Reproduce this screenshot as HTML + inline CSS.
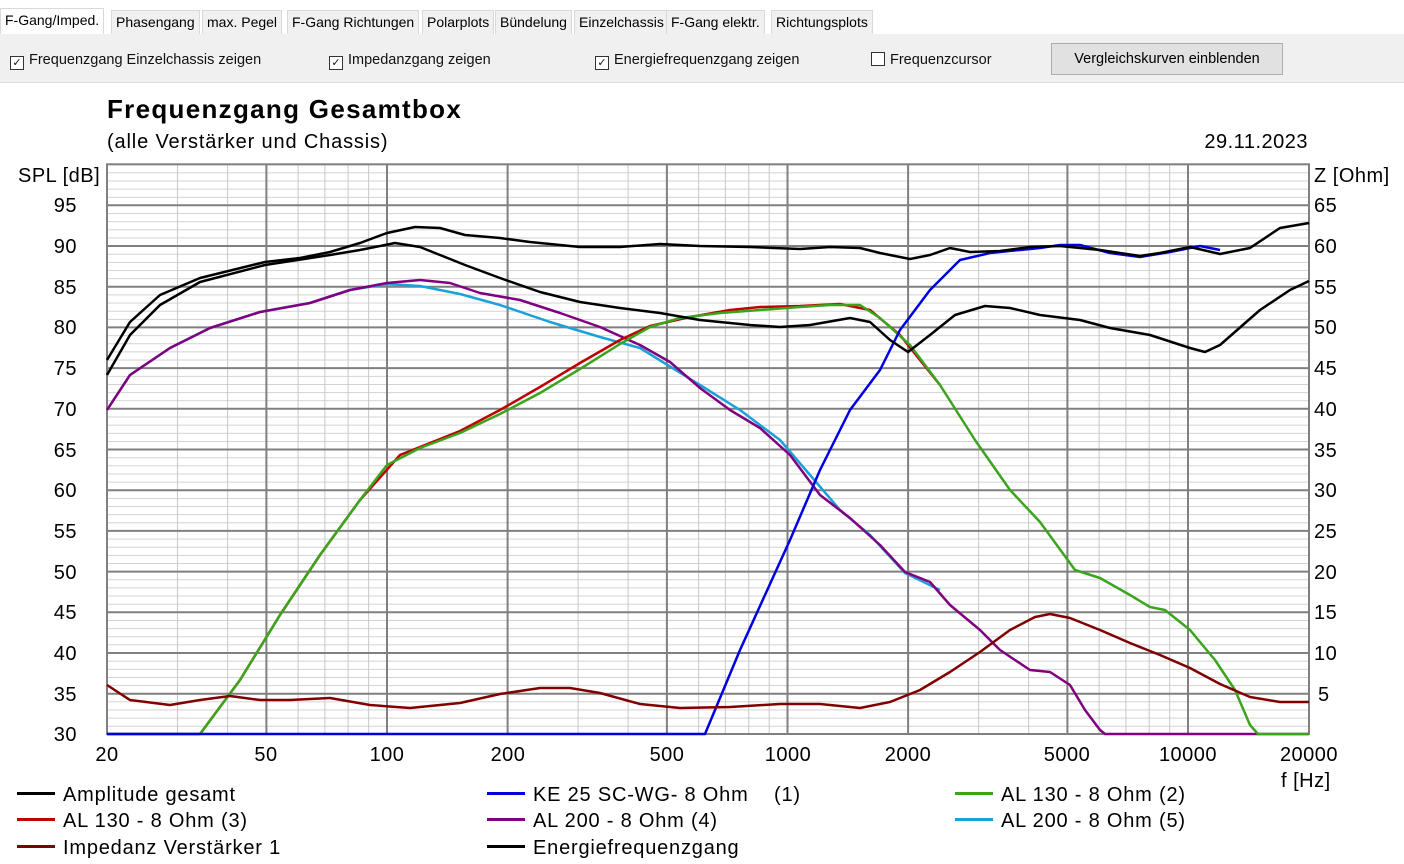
<!DOCTYPE html>
<html><head><meta charset="utf-8"><style>
body{margin:0;width:1404px;height:864px;background:#fff;font-family:"Liberation Sans",sans-serif;overflow:hidden;position:relative}
.tabs{position:absolute;top:8px;left:0;height:26px;width:1404px;background:#fff;border-bottom:1px solid #d9d9d9}
.tab{position:absolute;top:2px;height:23px;background:#f0f0f0;border:1px solid #d9d9d9;font-size:14px;line-height:23px;padding:0 4px;color:#000}
.bar{position:absolute;top:34px;left:0;width:1404px;height:48px;background:#f0f0f0;border-bottom:1px solid #ddd}
.cb{position:absolute;top:52px;font-size:14.5px;color:#111}
.cb i{display:inline-block;width:12px;height:12px;border:1px solid #333;background:#fff;vertical-align:-2px;margin-right:5px;font-style:normal;font-size:11px;line-height:12px;text-align:center}
.btn{position:absolute;left:1051px;top:43px;width:230px;height:30px;background:#e1e1e1;border:1px solid #adadad;font-size:14.5px;text-align:center;line-height:30px}
.t{position:absolute;font-size:20px;color:#000;white-space:nowrap;letter-spacing:0.5px}
.lg{position:absolute;font-size:20px;white-space:nowrap;letter-spacing:0.8px}
.lg b{display:inline-block;width:38px;height:3px;vertical-align:6px;margin-right:8px}
</style></head><body>
<div class="tabs">
<div class="tab" style="left:0;top:0;height:26px;background:#fff;border-bottom:none">F-Gang/Imped.</div>
<div class="tab" style="left:111px">Phasengang</div>
<div class="tab" style="left:202px">max. Pegel</div>
<div class="tab" style="left:287px">F-Gang Richtungen</div>
<div class="tab" style="left:422px">Polarplots</div>
<div class="tab" style="left:495px">Bündelung</div>
<div class="tab" style="left:574px">Einzelchassis</div>
<div class="tab" style="left:666px">F-Gang elektr.</div>
<div class="tab" style="left:771px">Richtungsplots</div>
</div>
<div class="bar"></div>
<div class="cb" style="left:10px"><i>✓</i>Frequenzgang Einzelchassis zeigen</div>
<div class="cb" style="left:329px"><i>✓</i>Impedanzgang zeigen</div>
<div class="cb" style="left:595px"><i>✓</i>Energiefrequenzgang zeigen</div>
<div class="cb" style="left:871px"><i></i>Frequenzcursor</div>
<div class="btn">Vergleichskurven einblenden</div>

<div class="t" style="left:107px;top:94px;font-size:26px;font-weight:bold;letter-spacing:1.3px">Frequenzgang Gesamtbox</div>
<div class="t" style="left:107px;top:131px;letter-spacing:0.85px">(alle Verstärker und Chassis)</div>
<div class="t" style="right:96px;top:131px">29.11.2023</div>
<div class="t" style="left:18px;top:165px">SPL [dB]</div>
<div class="t" style="left:1314px;top:165px">Z [Ohm]</div>
<div class="t" style="left:1281px;top:770px">f [Hz]</div>

<svg width="1404" height="864" style="position:absolute;left:0;top:0">
<defs><pattern id="hp" x="0" y="164.3" width="10" height="8.138" patternUnits="userSpaceOnUse"><line x1="0" y1="0.3" x2="10" y2="0.3" stroke="#c8c8c8" stroke-width="1"/></pattern></defs>
<rect x="107" y="164.3" width="1202" height="569.7" fill="url(#hp)"/>
<g stroke="#c8c8c8" stroke-width="1">
<line x1="177.5" y1="164" x2="177.5" y2="734"/><line x1="227.6" y1="164" x2="227.6" y2="734"/><line x1="298.1" y1="164" x2="298.1" y2="734"/><line x1="324.9" y1="164" x2="324.9" y2="734"/><line x1="348.1" y1="164" x2="348.1" y2="734"/><line x1="368.6" y1="164" x2="368.6" y2="734"/>
<line x1="578.1" y1="164" x2="578.1" y2="734"/><line x1="628.1" y1="164" x2="628.1" y2="734"/><line x1="698.6" y1="164" x2="698.6" y2="734"/><line x1="725.4" y1="164" x2="725.4" y2="734"/><line x1="748.7" y1="164" x2="748.7" y2="734"/><line x1="769.2" y1="164" x2="769.2" y2="734"/>
<line x1="978.6" y1="164" x2="978.6" y2="734"/><line x1="1028.6" y1="164" x2="1028.6" y2="734"/><line x1="1099.1" y1="164" x2="1099.1" y2="734"/><line x1="1125.9" y1="164" x2="1125.9" y2="734"/><line x1="1149.2" y1="164" x2="1149.2" y2="734"/><line x1="1169.7" y1="164" x2="1169.7" y2="734"/>
</g>
<g stroke="#808080" stroke-width="2">
<line x1="266.4" y1="164" x2="266.4" y2="734"/><line x1="387" y1="164" x2="387" y2="734"/><line x1="507.6" y1="164" x2="507.6" y2="734"/><line x1="666.9" y1="164" x2="666.9" y2="734"/><line x1="787.5" y1="164" x2="787.5" y2="734"/><line x1="908.1" y1="164" x2="908.1" y2="734"/><line x1="1067.4" y1="164" x2="1067.4" y2="734"/><line x1="1188" y1="164" x2="1188" y2="734"/>
<line x1="107" y1="205.3" x2="1309" y2="205.3"/><line x1="107" y1="246" x2="1309" y2="246"/><line x1="107" y1="286.7" x2="1309" y2="286.7"/><line x1="107" y1="327.4" x2="1309" y2="327.4"/><line x1="107" y1="368.1" x2="1309" y2="368.1"/><line x1="107" y1="408.8" x2="1309" y2="408.8"/><line x1="107" y1="449.5" x2="1309" y2="449.5"/><line x1="107" y1="490.2" x2="1309" y2="490.2"/><line x1="107" y1="530.9" x2="1309" y2="530.9"/><line x1="107" y1="571.6" x2="1309" y2="571.6"/><line x1="107" y1="612.3" x2="1309" y2="612.3"/><line x1="107" y1="653" x2="1309" y2="653"/><line x1="107" y1="693.7" x2="1309" y2="693.7"/>
</g>
<rect x="107" y="164.3" width="1202" height="569.7" fill="none" stroke="#808080" stroke-width="2"/>
<g fill="none" stroke-width="2.5" stroke-linejoin="round">
<polyline stroke="#1ba1d8" points="107,410 130,375 170,348 210,328 260,312 310,303 350,290 387,284 420,286 460,294 500,305 550,322 600,337 640,348 700,385 740,410 780,440 810,475 840,510 870,535 905,573 940,590"/>
<polyline stroke="#800080" points="107,410 130,375 170,348 210,328 260,312 310,303 350,290 387,283 420,280 450,283 480,293 520,300 560,313 600,327 640,345 670,362 700,388 730,410 760,428 790,455 820,495 850,518 880,545 905,572 930,582 950,605 980,630 1000,650 1030,670 1050,672 1070,685 1085,710 1100,730 1105,734 1309,734"/>
<polyline stroke="#c00000" points="107,734 200,734 240,680 280,615 320,555 360,500 400,455 460,431 500,410 540,387 580,363 620,340 650,326 690,317 730,310 760,307 800,306 840,304 870,310 900,335 940,385"/>
<polyline stroke="#3aa51c" points="107,734 200,734 240,680 280,615 320,555 360,500 387,465 420,448 460,433 500,414 540,393 580,369 620,344 650,327 680,318 720,313 760,310 800,307 830,305 860,305 880,318 910,345 940,385 975,440 1010,490 1040,522 1075,570 1100,578 1130,595 1150,607 1165,610 1190,630 1215,660 1235,690 1250,725 1258,734 1309,734"/>
<polyline stroke="#0000e0" points="107,734 705,734 740,650 765,595 790,540 820,470 850,410 880,370 900,330 930,290 960,260 990,253 1020,250 1040,248 1060,245 1080,245 1110,253 1140,257 1170,252 1200,246 1220,250"/>
<polyline stroke="#800000" points="107,685 130,700 170,705 200,700 230,696 260,700 290,700 330,698 370,705 410,708 460,703 500,694 540,688 570,688 600,693 640,704 680,708 730,707 780,704 820,704 860,708 890,702 920,690 950,672 980,652 1010,630 1035,617 1050,614 1070,618 1100,630 1130,643 1160,655 1190,668 1220,684 1250,697 1280,702 1309,702"/>
<polyline stroke="#000" points="107,360 130,322 160,295 200,278 265,262 300,258 330,252 360,243 387,233 415,227 440,228 465,235 500,238 530,242 580,247 620,247 660,244 700,246 750,247 800,249 830,247 860,248 880,253 910,259 930,255 950,248 970,252 1000,251 1030,247 1060,246 1100,250 1140,256 1160,253 1190,247 1220,254 1250,248 1280,228 1309,223"/>
<polyline stroke="#000" points="107,375 130,335 160,305 200,282 265,265 330,255 360,250 395,243 420,247 440,255 465,265 500,278 540,292 580,302 620,308 660,313 700,320 750,325 780,327 810,325 850,318 870,322 890,340 908,352 930,335 955,315 985,306 1010,308 1040,315 1080,320 1110,328 1150,335 1190,348 1205,352 1220,345 1260,310 1290,290 1309,281"/>
</g>
<g font-family="Liberation Sans,sans-serif" font-size="20" fill="#000" letter-spacing="0.5">
<g text-anchor="end">
<text x="77" y="212">95</text><text x="77" y="253">90</text><text x="77" y="294">85</text><text x="77" y="334">80</text><text x="77" y="375">75</text><text x="77" y="416">70</text><text x="77" y="457">65</text><text x="77" y="497">60</text><text x="77" y="538">55</text><text x="77" y="579">50</text><text x="77" y="619">45</text><text x="77" y="660">40</text><text x="77" y="701">35</text><text x="77" y="741">30</text>
</g>
<text x="1314" y="212">65</text><text x="1314" y="253">60</text><text x="1314" y="294">55</text><text x="1314" y="334">50</text><text x="1314" y="375">45</text><text x="1314" y="416">40</text><text x="1314" y="457">35</text><text x="1314" y="497">30</text><text x="1314" y="538">25</text><text x="1314" y="579">20</text><text x="1314" y="619">15</text><text x="1314" y="660">10</text><text x="1318" y="701">5</text>
<g text-anchor="middle">
<text x="107" y="761">20</text><text x="266" y="761">50</text><text x="387" y="761">100</text><text x="508" y="761">200</text><text x="667" y="761">500</text><text x="788" y="761">1000</text><text x="908" y="761">2000</text><text x="1067" y="761">5000</text><text x="1188" y="761">10000</text><text x="1309" y="761">20000</text>
</g>
</g>
</svg>
<div class="lg" style="left:17px;top:784px"><b style="background:#000"></b>Amplitude gesamt</div>
<div class="lg" style="left:17px;top:810px"><b style="background:#c00000"></b>AL 130 - 8 Ohm (3)</div>
<div class="lg" style="left:17px;top:837px"><b style="background:#800000"></b>Impedanz Verstärker 1</div>
<div class="lg" style="left:487px;top:784px"><b style="background:#0000e0"></b>KE 25 SC-WG- 8 Ohm &nbsp;&nbsp;&nbsp;(1)</div>
<div class="lg" style="left:487px;top:810px"><b style="background:#800080"></b>AL 200 - 8 Ohm (4)</div>
<div class="lg" style="left:487px;top:837px"><b style="background:#000"></b>Energiefrequenzgang</div>
<div class="lg" style="left:955px;top:784px"><b style="background:#3aa51c"></b>AL 130 - 8 Ohm (2)</div>
<div class="lg" style="left:955px;top:810px"><b style="background:#1ba1d8"></b>AL 200 - 8 Ohm (5)</div>
</body></html>
